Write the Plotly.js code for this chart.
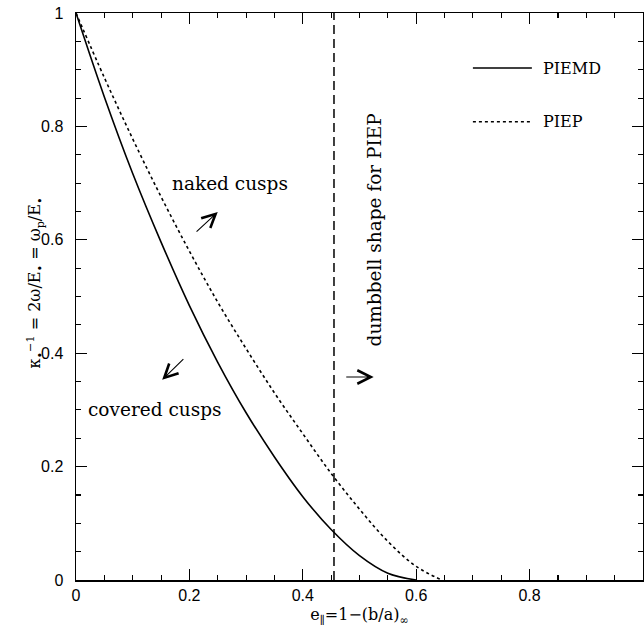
<!DOCTYPE html>
<html>
<head>
<meta charset="utf-8">
<script src="https://cdn.plot.ly/plotly-3.0.1.min.js"></script>
<style>html,body{margin:0;padding:0;overflow:hidden;background:#fff;}</style>
</head>
<body>
<div id="chart" style="width:644px;height:637px;"></div>
<script>
// PIEMD (solid) curve
const piemdX = [0, 0.05, 0.1, 0.15, 0.2, 0.25, 0.3, 0.35, 0.4, 0.45, 0.5, 0.55, 0.6];
const piemdY = [1, 0.852, 0.717, 0.596, 0.484, 0.384, 0.295, 0.217, 0.147, 0.089, 0.043, 0.012, 0];
// PIEP (dotted) curve
const piepX = [0, 0.05, 0.1, 0.15, 0.2, 0.25, 0.3, 0.35, 0.4, 0.45, 0.5, 0.55, 0.6, 0.645];
const piepY = [1, 0.886, 0.778, 0.676, 0.58, 0.49, 0.408, 0.33, 0.258, 0.188, 0.125, 0.068, 0.024, 0];
// dumbbell boundary for PIEP
const boundaryX = [0.455, 0.455];
const boundaryY = [0, 1];

const serif = "DejaVu Serif, Liberation Serif, serif";
const sans = "Liberation Sans, Arial, sans-serif";

const traces = [
  {x: piemdX, y: piemdY, mode: 'lines', name: 'PIEMD', line: {color: '#000', width: 1.6, shape: 'spline', smoothing: 1}},
  {x: piepX, y: piepY, mode: 'lines', name: 'PIEP', line: {color: '#000', width: 1.6, dash: 'dot', shape: 'spline', smoothing: 1}},
  {x: boundaryX, y: boundaryY, mode: 'lines', line: {color: '#000', width: 1.5, dash: '9px,5px'}}
];

const axisCommon = {
  range: [0, 1], showgrid: false, zeroline: false, showline: true, linecolor: '#000', linewidth: 1.5,
  mirror: 'ticks', ticks: 'inside', ticklen: 11, tickwidth: 1.2, tickcolor: '#000', dtick: 0.2, tick0: 0,
  minor: {dtick: 0.05, ticks: 'inside', ticklen: 5, tickwidth: 1.1, tickcolor: '#000'},
  tickfont: {family: sans, size: 16, color: '#000'}
};

const txt = {family: serif, size: 18.5, color: '#000'};
const arrowStyle = {text: '', showarrow: true, arrowhead: 5, arrowsize: 2.4, arrowwidth: 1.1, arrowcolor: '#000', xref: 'x', yref: 'y', axref: 'x', ayref: 'y'};

const layout = {
  width: 644, height: 637,
  margin: {l: 76, r: 1, t: 13, b: 57},
  paper_bgcolor: '#fff', plot_bgcolor: '#fff',
  showlegend: false,
  xaxis: Object.assign({}, axisCommon, {
    title: {text: 'e<sub>\u2225</sub>=1\u2212(b/a)<sub>\u221e</sub>', font: {family: serif, size: 16, color: '#000'}, standoff: 6}
  }),
  yaxis: Object.assign({}, axisCommon, {ticklabelstandoff: 8}),
  shapes: [
    {type: 'line', xref: 'x', yref: 'y', x0: 0.700, x1: 0.804, y0: 0.903, y1: 0.903, line: {color: '#000', width: 1.5}},
    {type: 'line', xref: 'x', yref: 'y', x0: 0.700, x1: 0.804, y0: 0.808, y1: 0.808, line: {color: '#000', width: 1.5, dash: 'dot'}}
  ],
  annotations: [
    {x: -0.095, y: 0.524, xref: 'paper', yref: 'paper', textangle: -90, showarrow: false,
     text: '\u03ba<sub>\u2022</sub><sup>\u22121</sup> = 2\u03c9/E<sub>\u2022</sub> = \u03c9<sub>p</sub>/E<sub>\u2022</sub>',
     font: {family: serif, size: 16, color: '#000'}},
    {x: 0.820, y: 0.903, xref: 'x', yref: 'y', text: 'PIEMD', showarrow: false, xanchor: 'left', font: {family: serif, size: 16, color: '#000'}},
    {x: 0.820, y: 0.808, xref: 'x', yref: 'y', text: 'PIEP', showarrow: false, xanchor: 'left', font: {family: serif, size: 16, color: '#000'}},
    {x: 0.272, y: 0.700, xref: 'x', yref: 'y', text: 'naked cusps', showarrow: false, font: txt},
    {x: 0.139, y: 0.300, xref: 'x', yref: 'y', text: 'covered cusps', showarrow: false, font: txt},
    {x: 0.526, y: 0.617, xref: 'x', yref: 'y', text: 'dumbbell shape for PIEP', textangle: -90, showarrow: false, font: txt},
    Object.assign({x: 0.250, y: 0.649, ax: 0.210, ay: 0.612}, arrowStyle),
    Object.assign({x: 0.152, y: 0.353, ax: 0.192, ay: 0.392}, arrowStyle),
    Object.assign({x: 0.525, y: 0.358, ax: 0.474, ay: 0.358}, arrowStyle)
  ]
};

Plotly.newPlot('chart', traces, layout, {staticPlot: true, displayModeBar: false});
</script>
</body>
</html>
